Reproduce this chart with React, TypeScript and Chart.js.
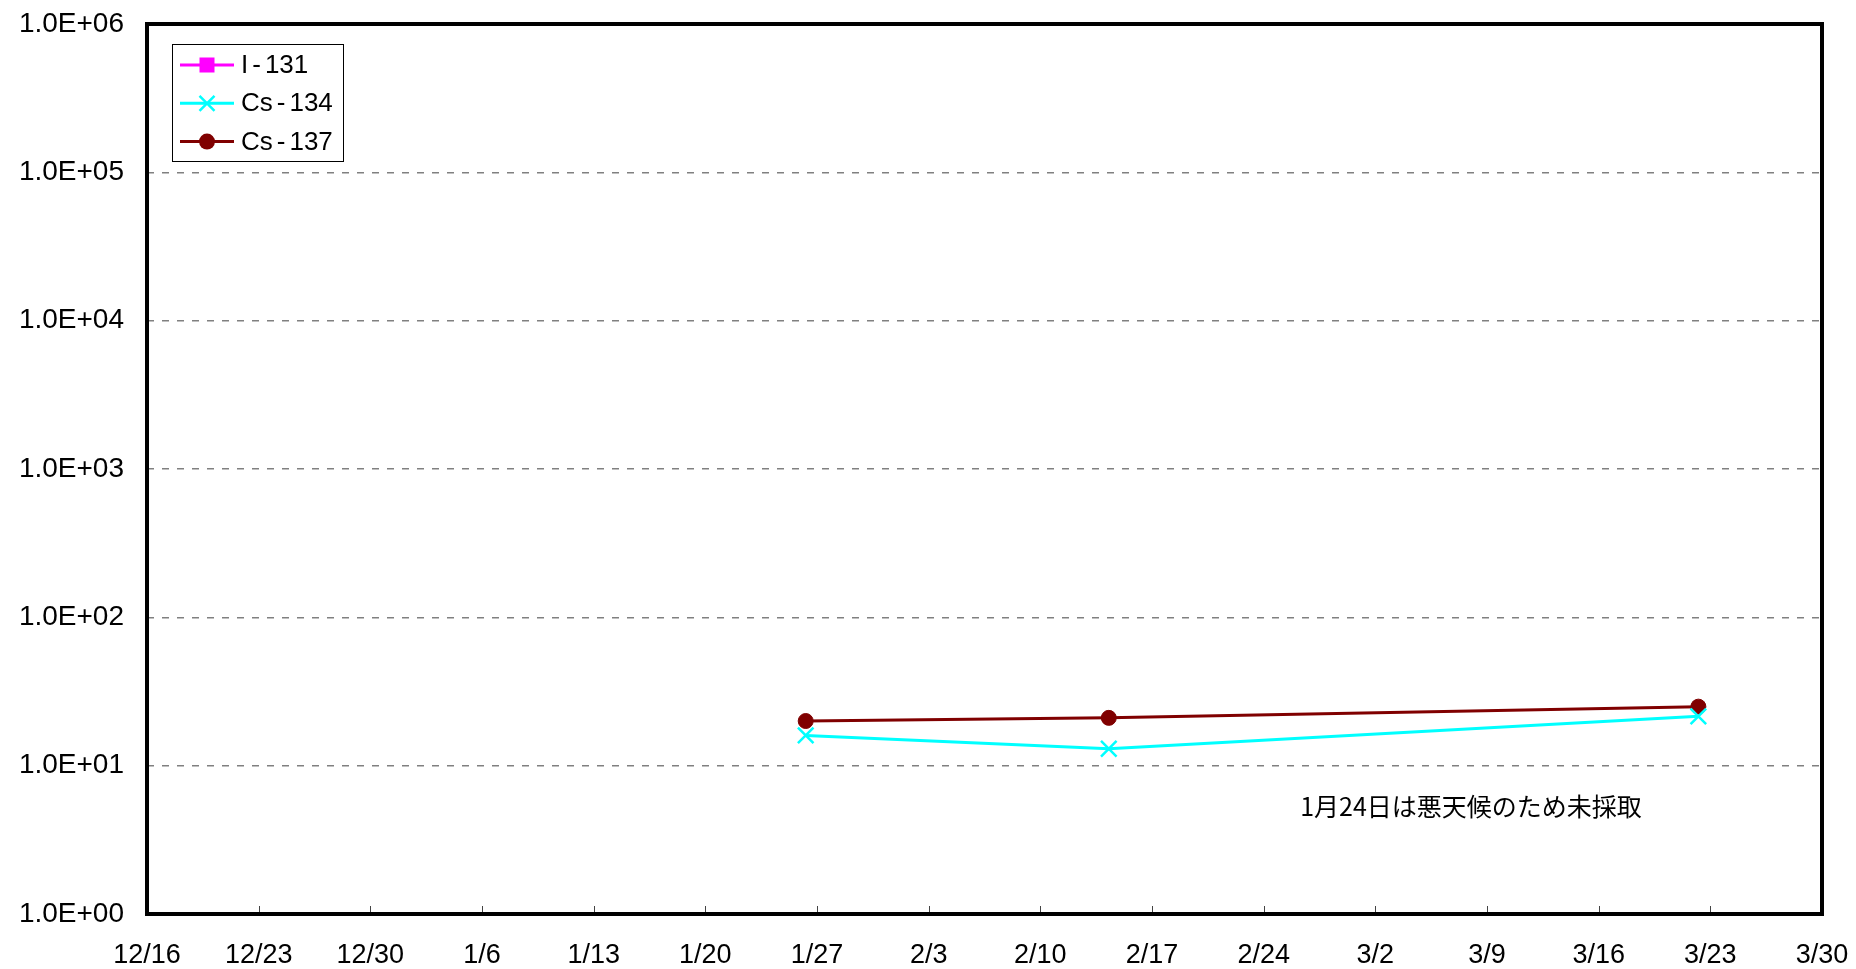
import React, { useEffect, useRef } from "react";
import { Chart, registerables } from "chart.js";

Chart.register(...registerables);

// ---- data ----
const xTickLabels = [
  "12/16", "12/23", "12/30", "1/6", "1/13", "1/20", "1/27", "2/3",
  "2/10", "2/17", "2/24", "3/2", "3/9", "3/16", "3/23", "3/30",
];
const sampleDates = ["1/26", "2/14", "3/22"];
const sampleHours = [7, 7, 6];
const seriesNames = ["I-131", "Cs-134", "Cs-137"];
const i131: number[] = []; // not detected
const cs134 = [16, 13, 21.5];
const cs137 = [20, 21, 25];
const yTickValues = [1, 10, 100, 1000, 10000, 100000, 1000000];
const seriesColors = ["#FF00FF", "#00FFFF", "#800000"];
const noteText = "1月24日は悪天候のため未採取";
const noteDate = "3/8";
const noteValue = 5.3;

function dayIndex(label: string): number {
  const [m, d] = label.split("/").map(Number);
  const y = m === 12 ? 2011 : 2012;
  return Math.round((Date.UTC(y, m - 1, d) - Date.UTC(2011, 11, 16)) / 86400000);
}

const FONT = "'Liberation Sans', Arial, sans-serif";

function drawSpacedLabel(ctx: any, text: string, x: number, y: number) {
  // hyphen drawn with wider side gaps as in the original font
  const parts = text.split("-");
  let cx = x;
  parts.forEach((p, i) => {
    if (i > 0) {
      cx += 4;
      ctx.fillText("-", cx, y);
      cx += ctx.measureText("-").width + 4;
    }
    ctx.fillText(p, cx, y);
    cx += ctx.measureText(p).width;
  });
}

const framePlugin = {
  id: "frame",
  afterDatasetsDraw(chart: any) {
    const { ctx, chartArea: a, scales } = chart;
    ctx.save();
    // inward tick marks on x axis
    ctx.strokeStyle = "#444";
    ctx.lineWidth = 1;
    const xs = scales.x;
    xs.ticks.forEach((t: any, i: number) => {
      if (i === 0 || i === xs.ticks.length - 1) return;
      const px = Math.round(xs.getPixelForValue(t.value)) + 0.5;
      ctx.beginPath();
      ctx.moveTo(px, a.bottom);
      ctx.lineTo(px, a.bottom - 8);
      ctx.stroke();
    });
    // border
    ctx.strokeStyle = "#000";
    ctx.lineWidth = 4;
    ctx.strokeRect(a.left, a.top, a.right - a.left, a.bottom - a.top);

    // note
    ctx.fillStyle = "#000";
    ctx.font = "25px 'Noto Sans CJK JP', sans-serif";
    ctx.textAlign = "center";
    ctx.textBaseline = "middle";
    ctx.fillText(
      noteText,
      xs.getPixelForValue(dayIndex(noteDate)),
      scales.y.getPixelForValue(noteValue)
    );

    // legend
    const bx = a.left + 25;
    const by = a.top + 20;
    const bw = 171;
    const bh = 117;
    ctx.fillStyle = "#fff";
    ctx.fillRect(bx, by, bw, bh);
    ctx.strokeStyle = "#000";
    ctx.lineWidth = 1;
    ctx.strokeRect(bx + 0.5, by + 0.5, bw, bh);
    chart.data.datasets.forEach((ds: any, i: number) => {
      const cy = by + 21 + i * 38.3;
      const x0 = bx + 8;
      const x1 = bx + 62;
      const mx = (x0 + x1) / 2;
      ctx.strokeStyle = ds.borderColor;
      ctx.lineWidth = 3;
      ctx.beginPath();
      ctx.moveTo(x0, cy);
      ctx.lineTo(x1, cy);
      ctx.stroke();
      ctx.fillStyle = ds.borderColor;
      if (ds.pointStyle === "rect") {
        ctx.fillRect(mx - 7.5, cy - 7.5, 15, 15);
      } else if (ds.pointStyle === "circle") {
        ctx.beginPath();
        ctx.arc(mx, cy, 8, 0, Math.PI * 2);
        ctx.fill();
      } else {
        ctx.lineWidth = 2.5;
        ctx.beginPath();
        ctx.moveTo(mx - 7.5, cy - 7.5);
        ctx.lineTo(mx + 7.5, cy + 7.5);
        ctx.moveTo(mx + 7.5, cy - 7.5);
        ctx.lineTo(mx - 7.5, cy + 7.5);
        ctx.stroke();
      }
      ctx.fillStyle = "#000";
      ctx.font = `26px ${FONT}`;
      ctx.textAlign = "left";
      ctx.textBaseline = "middle";
      drawSpacedLabel(ctx, ds.label, bx + 69, cy + 1);
    });
    ctx.restore();
  },
};

export default function App() {
  const ref = useRef<HTMLCanvasElement | null>(null);

  useEffect(() => {
    if (!ref.current) return;
    const toPoints = (vals: number[]) =>
      vals.map((v, i) => ({ x: dayIndex(sampleDates[i]) + sampleHours[i] / 24, y: v }));

    const chart = new Chart(ref.current, {
      type: "line",
      data: {
        datasets: [
          {
            label: seriesNames[0],
            data: toPoints(i131),
            borderColor: seriesColors[0],
            backgroundColor: seriesColors[0],
            borderWidth: 3,
            pointStyle: "rect",
            pointRadius: 7,
          },
          {
            label: seriesNames[1],
            data: toPoints(cs134),
            borderColor: seriesColors[1],
            backgroundColor: seriesColors[1],
            borderWidth: 3,
            pointStyle: "crossRot",
            pointRadius: 11,
            pointBorderWidth: 2.5,
          },
          {
            label: seriesNames[2],
            data: toPoints(cs137),
            borderColor: seriesColors[2],
            backgroundColor: seriesColors[2],
            borderWidth: 3,
            pointStyle: "circle",
            pointRadius: 7.5,
            pointBorderWidth: 1,
          },
        ],
      },
      options: {
        animation: false,
        responsive: true,
        maintainAspectRatio: false,
        layout: { padding: { left: 0, right: 34, top: 24, bottom: 0 } },
        plugins: {
          legend: { display: false },
          tooltip: { enabled: false },
        },
        scales: {
          x: {
            type: "linear",
            min: dayIndex(xTickLabels[0]),
            max: dayIndex(xTickLabels[xTickLabels.length - 1]),
            afterBuildTicks: (s: any) => {
              s.ticks = xTickLabels.map((l) => ({ value: dayIndex(l) }));
            },
            afterFit: (s: any) => {
              s.height = 55;
              s.paddingLeft = 0;
              s.paddingRight = 0;
            },
            grid: { display: false, drawTicks: false },
            border: { display: false },
            ticks: {
              autoSkip: false,
              maxRotation: 0,
              padding: 25,
              color: "#000",
              font: { family: FONT, size: 27 },
              callback: (_v: any, i: number) => xTickLabels[i],
            },
          },
          y: {
            type: "logarithmic",
            min: yTickValues[0],
            max: yTickValues[yTickValues.length - 1],
            afterBuildTicks: (s: any) => {
              s.ticks = yTickValues.map((v) => ({ value: v }));
            },
            afterFit: (s: any) => {
              s.width = 147;
              s.paddingTop = 0;
              s.paddingBottom = 0;
            },
            grid: {
              drawTicks: false,
              lineWidth: 1.5,
              color: (c: any) =>
                c.tick && (c.tick.value === yTickValues[0] || c.tick.value === yTickValues[yTickValues.length - 1])
                  ? "rgba(0,0,0,0)"
                  : "#808080",
            },
            border: { display: false, dash: [7, 8] },
            ticks: {
              padding: 23,
              color: "#000",
              font: { family: FONT, size: 28 },
              callback: (v: any) =>
                "1.0E+" + String(Math.round(Math.log10(Number(v)))).padStart(2, "0"),
            },
          },
        },
      },
      plugins: [framePlugin],
    });
    return () => chart.destroy();
  }, []);

  return (
    <div
      style={{
        position: "fixed",
        left: 0,
        top: 0,
        width: 1856,
        height: 969,
        background: "#fff",
      }}
    >
      <canvas ref={ref} />
    </div>
  );
}
